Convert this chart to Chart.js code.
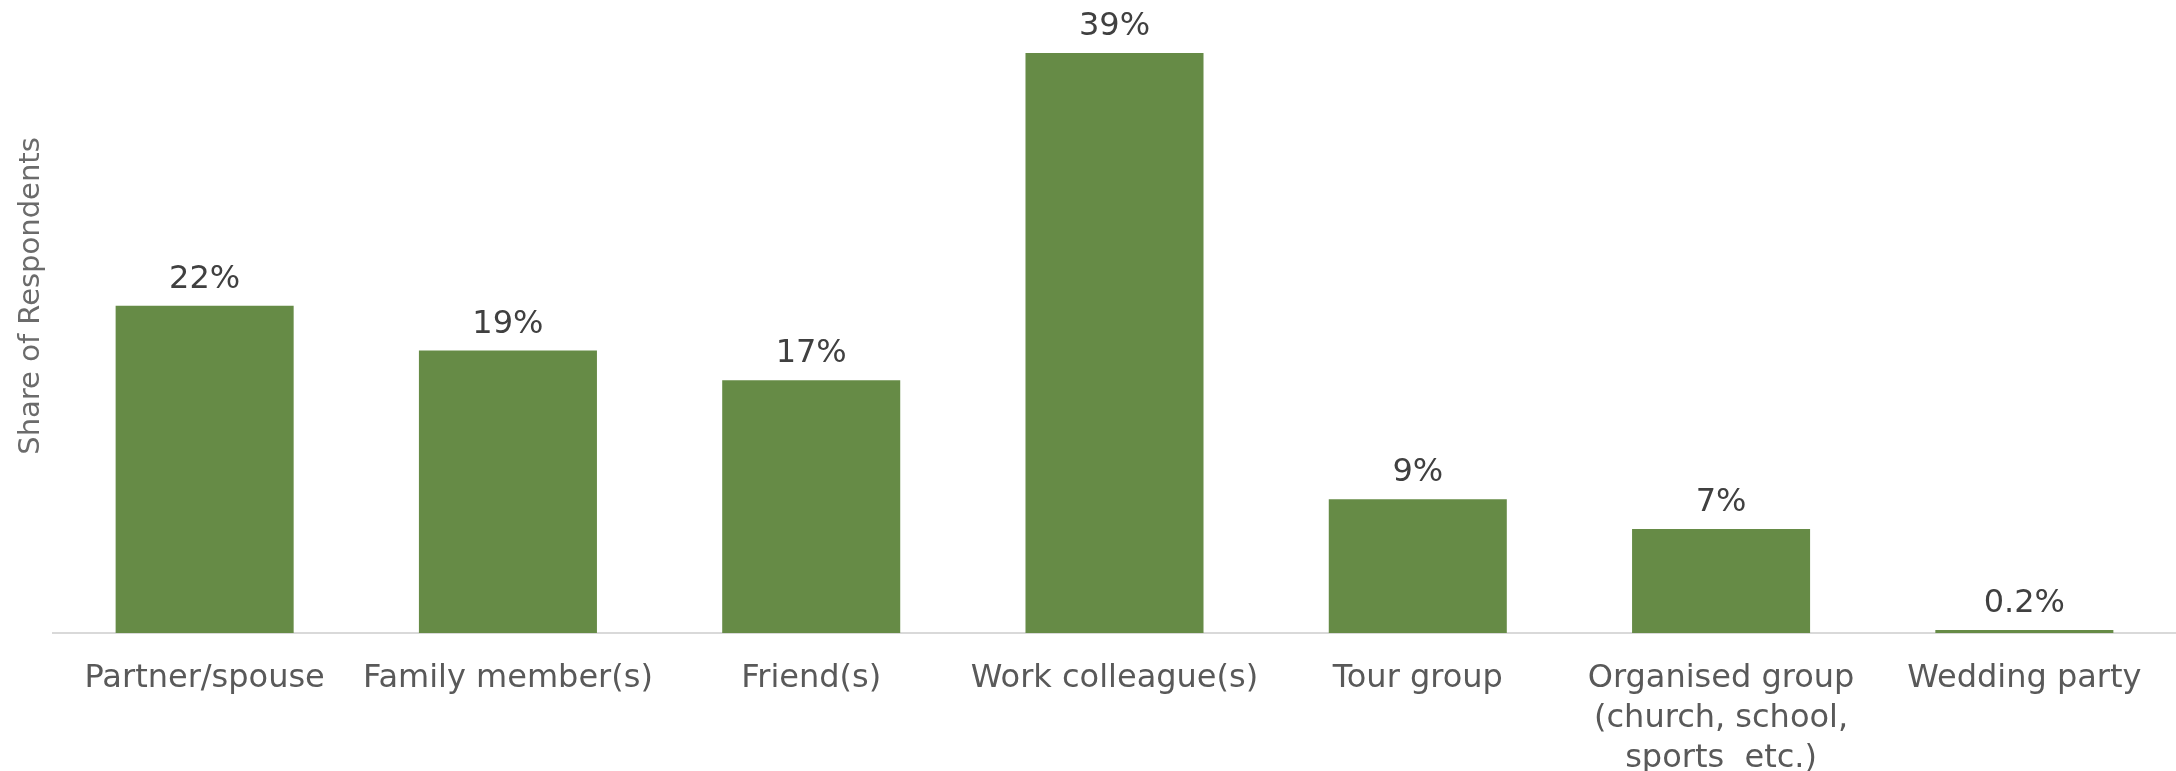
<!DOCTYPE html>
<html>
<head>
<meta charset="utf-8">
<script src="https://cdn.jsdelivr.net/npm/chart.js@4.4.1/dist/chart.umd.min.js"></script>
<style>
  html, body { margin: 0; padding: 0; background: #fff; }
  #wrap { width: 2176px; height: 771px; }
</style>
</head>
<body>
<div id="wrap"><canvas id="myChart" width="2176" height="771"></canvas></div>
<script>
// categories and shares (percent)
const categories = [
  'Partner/spouse',
  'Family member(s)',
  'Friend(s)',
  'Work colleague(s)',
  'Tour group',
  ['Organised group', '(church, school,', 'sports  etc.)'],
  'Wedding party'
];
const shares = [22, 19, 17, 39, 9, 7, 0.2];
const yTitle = 'Share of Respondents';

const fontFamily = "'DejaVu Sans', sans-serif";

// writes the value above every bar, plus the rotated axis title
const valueLabels = {
  id: 'valueLabels',
  afterDatasetsDraw(chart) {
    const ctx = chart.ctx;
    const meta = chart.getDatasetMeta(0);
    ctx.save();
    ctx.font = "32px " + fontFamily;
    ctx.fillStyle = '#404040';
    ctx.textAlign = 'center';
    ctx.textBaseline = 'middle';
    meta.data.forEach((bar, i) => {
      let v = shares[i];
      let txt = (v < 1 ? v.toFixed(1) : v) + '%';
      ctx.fillText(txt, bar.x, bar.y - 26);
    });
    ctx.restore();

    ctx.save();
    ctx.translate(31, 296);
    ctx.rotate(-Math.PI / 2);
    ctx.font = "29px " + fontFamily;
    ctx.fillStyle = '#6b6b6b';
    ctx.textAlign = 'center';
    ctx.textBaseline = 'middle';
    ctx.fillText(yTitle, 0, 0);
    ctx.restore();
  }
};

let chart = new Chart(document.getElementById('myChart').getContext('2d'), {
  type: 'bar',
  data: {
    labels: categories,
    datasets: [{
      data: shares,
      backgroundColor: '#668b46',
      borderWidth: 0,
      categoryPercentage: 1,
      barPercentage: 0.587
    }]
  },
  options: {
    responsive: false,
    animation: false,
    layout: { padding: { top: 38, right: 0, left: 0, bottom: 0 } },
    plugins: { legend: { display: false }, tooltip: { enabled: false } },
    scales: {
      x: {
        grid: { display: false, drawTicks: false },
        border: { display: true, color: '#d9d9d9', width: 2 },
        ticks: {
          color: '#595959',
          padding: 26,
          maxRotation: 0,
          autoSkip: false,
          font: { family: fontFamily, size: 32, lineHeight: 1.25 }
        },
        afterFit(scale) { scale.height = 138; }
      },
      y: {
        min: 0,
        max: 40,
        grid: { display: false, drawTicks: false },
        border: { display: false },
        ticks: { display: false },
        afterFit(scale) { scale.width = 53; }
      }
    }
  },
  plugins: [valueLabels]
});
</script>
</body>
</html>
